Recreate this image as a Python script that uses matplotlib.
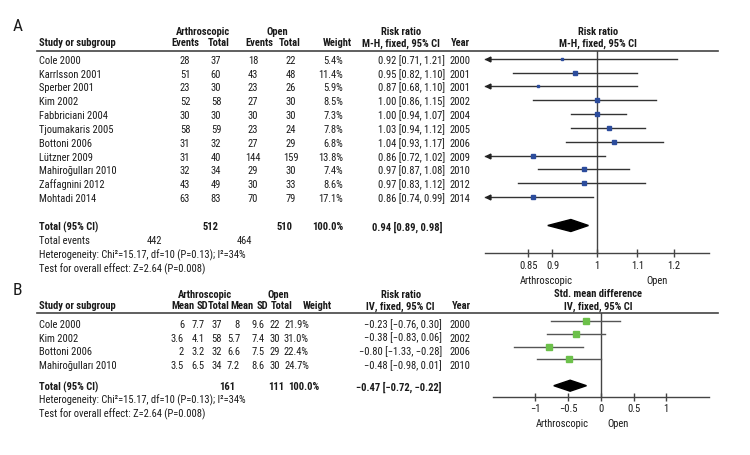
import os
import numpy as np
import matplotlib
matplotlib.use("Agg")
import matplotlib.pyplot as plt
from matplotlib import font_manager as fm
from matplotlib.font_manager import FontProperties
from matplotlib.ticker import FixedLocator, FixedFormatter, NullLocator

# ---------------- Panel A data ----------------
studies_a = ["Cole 2000", "Karrlsson 2001", "Sperber 2001", "Kim 2002", "Fabbriciani 2004",
             "Tjoumakaris 2005", "Bottoni 2006", "Lützner 2009", "Mahiroğulları 2010",
             "Zaffagnini 2012", "Mohtadi 2014"]
arth_events = [28, 51, 23, 52, 30, 58, 31, 31, 32, 43, 63]
arth_total = [37, 60, 30, 58, 30, 59, 32, 40, 34, 49, 83]
open_events = [18, 43, 23, 27, 30, 23, 27, 144, 29, 30, 70]
open_total = [22, 48, 26, 30, 30, 24, 29, 159, 30, 33, 79]
weight_a = [5.4, 11.4, 5.9, 8.5, 7.3, 7.8, 6.8, 13.8, 7.4, 8.6, 17.1]
rr = [0.92, 0.95, 0.87, 1.00, 1.00, 1.03, 1.04, 0.86, 0.97, 0.97, 0.86]
rr_lo = [0.71, 0.82, 0.68, 0.86, 0.94, 0.94, 0.93, 0.72, 0.87, 0.83, 0.74]
rr_hi = [1.21, 1.10, 1.10, 1.15, 1.07, 1.12, 1.17, 1.02, 1.08, 1.12, 0.99]
years_a = [2000, 2001, 2001, 2002, 2004, 2005, 2006, 2009, 2010, 2012, 2014]
total_a = {"arth_n": 512, "open_n": 510, "arth_ev": 442, "open_ev": 464,
           "est": 0.94, "lo": 0.89, "hi": 0.98}
ticks_a = [0.85, 0.9, 1, 1.1, 1.2]
ticklabels_a = ["0.85", "0.9", "1", "1.1", "1.2"]

# ---------------- Panel B data ----------------
studies_b = ["Cole 2000", "Kim 2002", "Bottoni 2006", "Mahiroğulları 2010"]
mean1 = [6, 3.6, 2, 3.5]
sd1 = [7.7, 4.1, 3.2, 6.5]
n1 = [37, 58, 32, 34]
mean2 = [8, 5.7, 6.6, 7.2]
sd2 = [9.6, 7.4, 7.5, 8.6]
n2 = [22, 30, 29, 30]
weight_b = [21.9, 31.0, 22.4, 24.7]
smd = [-0.23, -0.38, -0.80, -0.48]
smd_lo = [-0.76, -0.83, -1.33, -0.98]
smd_hi = [0.30, 0.06, -0.28, 0.01]
years_b = [2000, 2002, 2006, 2010]
total_b = {"n1": 161, "n2": 111, "est": -0.47, "lo": -0.72, "hi": -0.22}
ticks_b = [-1, -0.5, 0, 0.5, 1]
ticklabels_b = ["\u22121", "\u22120.5", "0", "0.5", "1"]

hetero = "Heterogeneity: Chi\u00b2=15.17, df=10 (P=0.13); I\u00b2=34%"
overall = "Test for overall effect: Z=2.64 (P=0.008)"

# ---------------- font choice: a narrow sans if one is installed ----------------
files = [f.fname for f in fm.fontManager.ttflist]


def pick(reg_keys, bold_keys):
    reg = [f for f in files if os.path.basename(f).lower() in reg_keys]
    bld = [f for f in files if os.path.basename(f).lower() in bold_keys]
    if reg:
        return reg[0], (bld[0] if bld else reg[0])
    return None


choice = None
for rk, bk in [
    (["liberationsansnarrow-regular.ttf"], ["liberationsansnarrow-bold.ttf"]),
    (["robotocondensed-regular.ttf"], ["robotocondensed-bold.ttf"]),
    (["notosans-condensed.ttf", "notosans-condensedregular.ttf"],
     ["notosans-condensedsemibold.ttf", "notosans-condensedbold.ttf"]),
    (["opensans-condensedregular.ttf", "opensans_condensed-regular.ttf"],
     ["opensans-condensedsemibold.ttf", "opensans_condensed-semibold.ttf", "opensans-condensedbold.ttf"]),
    (["dejavusanscondensed.ttf"], ["dejavusanscondensed-bold.ttf"]),
]:
    choice = pick(rk, bk)
    if choice:
        break

if choice:
    FP_R = FontProperties(fname=choice[0])
    FP_B = FontProperties(fname=choice[1])
else:
    FP_R = FontProperties(family='Roboto')
    FP_B = FontProperties(family='Roboto', weight='bold')

FS = 7.6
FS_LETTER = 12.5

W, H = 750, 455
fig = plt.figure(figsize=(W / 100, H / 100), dpi=100)
ov = fig.add_axes([0, 0, 1, 1])
ov.set_xlim(0, W)
ov.set_ylim(H, 0)
ov.axis('off')

TXT = '#1a1a1a'
LINE = '#444444'


def T(x, y, s, ha='left', bold=False, size=None):
    fp = (FP_B if bold else FP_R).copy()
    fp.set_size(size if size else FS)
    ov.text(x, y + 3.8, s, ha=ha, va='baseline', color=TXT, fontproperties=fp)


def fmt_ci(e, l, h):
    s = f"{e:.2f} [{l:.2f}, {h:.2f}]"
    return s.replace('-', '\u2212')


def pct(w):
    return f"{w:.1f}%"


def fax(x0, x1, y0, y1):
    return fig.add_axes([x0 / W, 1 - y1 / H, (x1 - x0) / W, (y1 - y0) / H])


# ================= Panel A =================
T(13, 27.5, "A", size=FS_LETTER)
T(203, 31, "Arthroscopic", 'center', True)
T(277, 31, "Open", 'center', True)
T(401, 31, "Risk ratio", 'center', True)
T(598, 31, "Risk ratio", 'center', True)
T(39, 42.5, "Study or subgroup", bold=True)
T(185, 42.5, "Events", 'center', True)
T(219, 42.5, "Total", 'center', True)
T(259, 42.5, "Events", 'center', True)
T(289.5, 42.5, "Total", 'center', True)
T(337, 42.5, "Weight", 'center', True)
T(401, 42.5, "M-H, fixed, 95% CI", 'center', True)
T(460, 42.5, "Year", 'center', True)
T(598, 42.5, "M-H, fixed, 95% CI", 'center', True)
ov.plot([37, 718], [50.5, 50.5], color=LINE, lw=1.2)

row0_a, pitch_a = 60, 13.83
for i, s in enumerate(studies_a):
    y = row0_a + pitch_a * i
    T(39, y, s)
    T(185, y, str(arth_events[i]), 'center')
    T(216, y, str(arth_total[i]), 'center')
    T(253, y, str(open_events[i]), 'center')
    T(291, y, str(open_total[i]), 'center')
    T(343, y, pct(weight_a[i]), 'right')
    T(445, y, fmt_ci(rr[i], rr_lo[i], rr_hi[i]), 'right')
    T(459.5, y, str(years_a[i]), 'center')

T(39, 226.7, "Total (95% CI)", bold=True)
T(210.5, 226.7, str(total_a["arth_n"]), 'center', True)
T(284.5, 226.7, str(total_a["open_n"]), 'center', True)
T(343, 226.7, pct(sum(weight_a)), 'right', True)
T(442, 226.7, fmt_ci(total_a["est"], total_a["lo"], total_a["hi"]), 'right', True)
T(39, 240.7, "Total events")
T(154, 240.7, str(total_a["arth_ev"]), 'center')
T(244, 240.7, str(total_a["open_ev"]), 'center')
T(39, 254.3, hetero)
T(39, 268.3, overall)

axa = fax(485, 709, 50.5, 253.3)
axa.set_xscale('log')
xa0, xa1 = 0.767, 1.304
axa.set_xlim(xa0, xa1)
axa.set_ylim(253.3, 50.5)
axa.patch.set_alpha(0)
for sp in ['top', 'left', 'right']:
    axa.spines[sp].set_visible(False)
axa.spines['bottom'].set_color(LINE)
axa.spines['bottom'].set_linewidth(1.0)
axa.axvline(1, color=LINE, lw=1.0, zorder=1)
for i in range(len(studies_a)):
    y = row0_a + pitch_a * i - 1.2
    lo = max(rr_lo[i], xa0)
    axa.plot([lo, rr_hi[i]], [y, y], color='#333333', lw=1.0, zorder=2, clip_on=False)
    if rr_lo[i] < xa0:
        axa.plot([xa0 * 1.006], [y], marker='<', ms=3.5, color='#222222', zorder=3, clip_on=False)
    axa.plot([rr[i]], [y], marker='s', ms=0.87 * np.sqrt(weight_a[i]), color='#2c4c9c',
             mec='#2c4c9c', zorder=4)
yd = 225.5
axa.fill([total_a["lo"], total_a["est"], total_a["hi"], total_a["est"]],
         [yd, yd - 6, yd, yd + 6], color='black', zorder=4)
axa.xaxis.set_major_locator(FixedLocator(ticks_a))
axa.xaxis.set_major_formatter(FixedFormatter(ticklabels_a))
axa.xaxis.set_minor_locator(NullLocator())
axa.tick_params(axis='x', direction='inout', length=6, width=1, color=LINE,
                labelcolor=TXT, pad=2.5)
axa.set_yticks([])
for lab in axa.get_xticklabels():
    fp = FP_R.copy(); fp.set_size(FS); lab.set_fontproperties(fp)
T(546, 280.7, "Arthroscopic", 'center')
T(657, 280.7, "Open", 'center')

# ================= Panel B =================
T(13, 291, "B", size=FS_LETTER)
T(205, 294, "Arthroscopic", 'center', True)
T(278, 294, "Open", 'center', True)
T(401, 294, "Risk ratio", 'center', True)
T(598, 293, "Std. mean difference", 'center', True)
T(39, 305.5, "Study or subgroup", bold=True)
T(183, 305.5, "Mean", 'center', True)
T(202, 305.5, "SD", 'center', True)
T(219, 305.5, "Total", 'center', True)
T(241.5, 305.5, "Mean", 'center', True)
T(262.5, 305.5, "SD", 'center', True)
T(282, 305.5, "Total", 'center', True)
T(317, 305.5, "Weight", 'center', True)
T(400, 305.5, "IV, fixed, 95% CI", 'center', True)
T(461, 305.5, "Year", 'center', True)
T(598, 305.5, "IV, fixed, 95% CI", 'center', True)
ov.plot([37, 718], [313, 313], color=LINE, lw=1.2)


def num(v):
    return f"{v:g}"


row0_b, pitch_b = 324, 13.7
for i, s in enumerate(studies_b):
    y = row0_b + pitch_b * i
    T(39, y, s)
    T(184, y, num(mean1[i]), 'right')
    T(205, y, num(sd1[i]), 'right')
    T(222, y, str(n1[i]), 'right')
    T(240, y, num(mean2[i]), 'right')
    T(265, y, num(sd2[i]), 'right')
    T(280, y, str(n2[i]), 'right')
    T(309, y, pct(weight_b[i]), 'right')
    T(442, y, fmt_ci(smd[i], smd_lo[i], smd_hi[i]), 'right')
    T(459.5, y, str(years_b[i]), 'center')

T(39, 386.7, "Total (95% CI)", bold=True)
T(227, 386.7, str(total_b["n1"]), 'center', True)
T(276, 386.7, str(total_b["n2"]), 'center', True)
T(304, 386.7, pct(sum(weight_b)), 'center', True)
T(442, 386.7, fmt_ci(total_b["est"], total_b["lo"], total_b["hi"]), 'right', True)
T(39, 400, hetero)
T(39, 413.3, overall)

axb = fax(492.7, 709.3, 313, 397.3)
xb0, xb1 = -1.655, 1.66
axb.set_xlim(xb0, xb1)
axb.set_ylim(397.3, 313)
axb.patch.set_alpha(0)
for sp in ['top', 'left', 'right']:
    axb.spines[sp].set_visible(False)
axb.spines['bottom'].set_color(LINE)
axb.spines['bottom'].set_linewidth(1.0)
axb.axvline(0, color=LINE, lw=1.0, zorder=1)
mrow0_b, mpitch_b = 321, 12.8
for i in range(len(studies_b)):
    y = mrow0_b + mpitch_b * i
    axb.plot([smd_lo[i], smd_hi[i]], [y, y], color='#555555', lw=1.0, zorder=2)
    axb.plot([smd[i]], [y], marker='s', ms=0.9 * np.sqrt(weight_b[i]), color='#6cc04a',
             mec='#6cc04a', zorder=4)
yd = 385.7
axb.fill([total_b["lo"], total_b["est"], total_b["hi"], total_b["est"]],
         [yd, yd - 5.5, yd, yd + 5.5], color='black', zorder=4)
axb.xaxis.set_major_locator(FixedLocator(ticks_b))
axb.xaxis.set_major_formatter(FixedFormatter(ticklabels_b))
axb.tick_params(axis='x', direction='inout', length=6, width=1, color=LINE,
                labelcolor=TXT, pad=1.5)
axb.set_yticks([])
for lab in axb.get_xticklabels():
    fp = FP_R.copy(); fp.set_size(FS); lab.set_fontproperties(fp)
T(562, 423, "Arthroscopic", 'center')
T(618, 423, "Open", 'center')

fig.savefig("out.png", dpi=100)
